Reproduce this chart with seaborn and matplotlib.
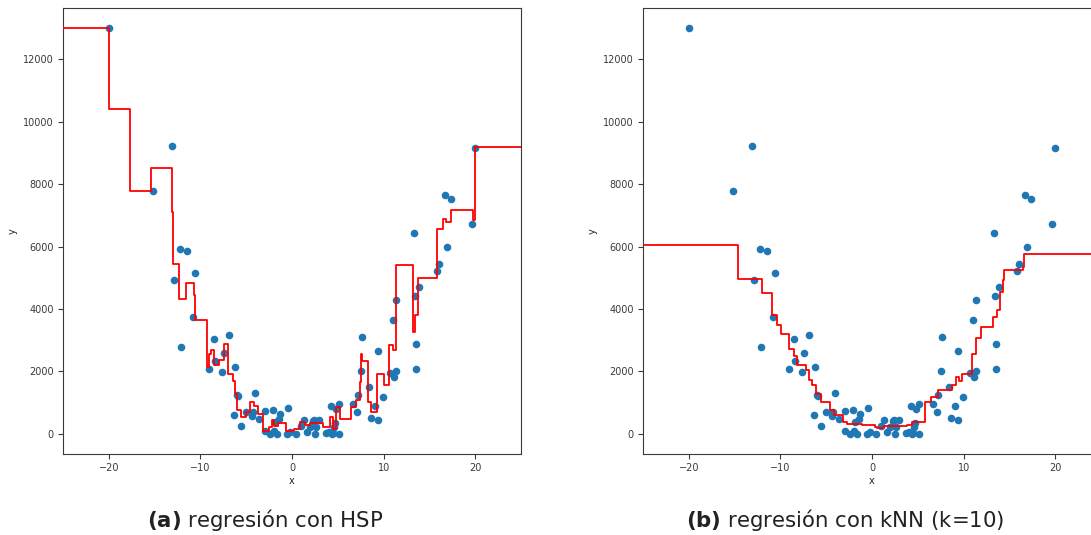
import numpy as np
import pandas as pd
import matplotlib
matplotlib.use("Agg")
import matplotlib.pyplot as plt
import seaborn as sns

# ---- scatter data ----
pts_x = [-20.0, -15.2, -13.07, -12.93, -12.25, -11.45, -12.15, -10.58, -10.8, -8.55,
         -6.86, -7.46, -8.44, -9.05, -7.66, -6.24, -6.0, -5.86, -4.08, -6.33,
         -5.53, -5.01, -4.41, -4.3, -3.55, -2.96, -2.11, -1.29, -0.49, -2.95,
         -2.37, -2.01, -1.63, -1.83, -1.47, -0.53, -0.2, 0.4, 0.95, 1.27,
         1.6, 1.97, 2.33, 2.45, 2.94, 2.55, 2.65, 3.7, 4.05, 4.35,
         4.5, 5.11, 4.65, 4.55, 4.28, 4.77, 5.13, 6.62, 7.09, 7.22,
         8.37, 7.55, 7.65, 9.35, 8.67, 9.37, 9.1, 9.93, 10.65, 11.38,
         11.13, 13.57, 13.57, 11.02, 11.39, 13.4, 13.9, 13.27, 15.81, 16.09,
         16.97, 16.7, 17.4, 19.7, 19.96]
pts_y = [13000, 7770, 9240, 4925, 5920, 5845, 2790, 5160, 3733, 3045,
         3150, 2582, 2325, 2090, 1995, 2155, 1256, 1202, 1298, 605,
         252, 711, 560, 689, 476, 743, 770, 637, 812, 85,
         0, 96, 0, 367, 471, 0, 40, 0, 240, 454,
         48, 205, 410, 454, 454, 0, 205, 27, 60, 0,
         22, 0, 340, 212, 903, 780, 958, 945, 711, 1229,
         1503, 2026, 3108, 2646, 508, 445, 881, 1170, 1962, 2000,
         1823, 2068, 2883, 3652, 4300, 4400, 4695, 6440, 5225, 5450,
         5985, 7670, 7520, 6730, 9160]

# ---- HSP regression line (step breakpoints) ----
hsp_x = [-25, -20.0, -17.7, -15.35, -13.15, -12.95, -12.3, -11.6, -10.75, -10.6,
         -9.25, -9.05, -8.8, -8.55, -7.95, -7.45, -6.95, -6.4, -6.2, -6.05,
         -5.55, -5.05, -4.55, -4.1, -3.75, -3.2, -2.5, -2.2, -1.95, -1.55,
         -0.7, 0.25, 0.49, 0.85, 1.39, 1.94, 3.39, 4.11, 4.47, 4.84,
         5.2, 6.47, 7.02, 7.38, 7.56, 7.67, 8.28, 8.65, 9.26, 9.99,
         10.64, 11.0, 11.37, 13.25, 13.47, 13.72, 15.83, 16.52, 16.81, 17.36,
         19.71, 19.97, 25]
hsp_y = [13000, 10420, 7776, 8514, 7100, 5450, 4330, 4830, 4440, 3655,
         2135, 2560, 2700, 2190, 2375, 2885, 1925, 1700, 1280, 745,
         530, 685, 1010, 900, 630, 100, 200, 450, 250, 350,
         100, 150, 160, 370, 265, 330, 210, 530, 160, 850,
         460, 850, 1070, 1650, 2570, 2320, 1010, 690, 1925, 1570,
         2830, 2700, 5400, 3260, 3800, 4990, 6580, 6870, 6790, 7170,
         6845, 9180, 9180]

# ---- kNN (k=10) regression line (step breakpoints) ----
knn_x = [-25, -14.59, -11.97, -10.88, -10.34, -9.97, -9.07, -8.52, -8.16, -7.25,
         -6.89, -6.52, -6.16, -5.61, -4.6, -4.16, -3.18, -2.71, -1.07, 0.38,
         0.56, 1.29, 3.83, 4.38, 5.83, 6.45, 7.17, 8.74, 9.17, 9.46,
         9.83, 10.88, 11.35, 11.9, 13.21, 13.6, 13.93, 14.26, 14.4, 16.48,
         16.62, 25]
knn_y = [6065, 4974, 4512, 3796, 3498, 3209, 2728, 2500, 2192, 2031,
         1710, 1550, 1284, 1014, 748, 587, 372, 321, 266, 212,
         180, 234, 266, 372, 1014, 1175, 1412, 1550, 1816, 1700,
         1925, 2567, 3081, 3421, 3742, 3957, 4544, 4919, 5240, 5347,
         5754, 5754]

captions = [("(a)", " regresión con HSP"), ("(b)", " regresión con kNN (k=10)")]

sns.set_style("white")
plt.rcParams["font.family"] = ["DejaVu Sans"]
plt.rcParams["axes.edgecolor"] = "#3a3a3a"
plt.rcParams["axes.linewidth"] = 0.8
plt.rcParams["xtick.color"] = "#3a3a3a"
plt.rcParams["ytick.color"] = "#3a3a3a"
plt.rcParams["text.color"] = "#222222"

pts = pd.DataFrame({"x": pts_x, "y": pts_y})
hsp = pd.DataFrame({"x": hsp_x, "y": hsp_y})
knn = pd.DataFrame({"x": knn_x, "y": knn_y})

fig = plt.figure(figsize=(10.91, 5.35), dpi=100)
ax1 = fig.add_axes([63 / 1091, 81 / 535, 458 / 1091, 446 / 535])
ax2 = fig.add_axes([643 / 1091, 81 / 535, 458 / 1091, 446 / 535])

for ax, line in [(ax1, hsp), (ax2, knn)]:
    sns.scatterplot(data=pts, x="x", y="y", ax=ax, s=30, color="#1f77b4",
                    linewidth=0, zorder=2)
    sns.lineplot(data=line, x="x", y="y", ax=ax, color="red", linewidth=1.3,
                 drawstyle="steps-post", estimator=None, sort=False, zorder=3)
    ax.set_xlim(-25, 25)
    ax.set_ylim(-650, 13650)
    ax.set_xticks([-20, -10, 0, 10, 20])
    ax.set_yticks([0, 2000, 4000, 6000, 8000, 10000, 12000])
    ax.tick_params(axis="both", labelsize=7, length=3.5, width=0.8,
                   direction="out", bottom=True, left=True, pad=3)
    ax.set_xlabel("x", fontsize=7, labelpad=2)
    ax.set_ylabel("y", fontsize=7, labelpad=4)
    for s in ax.spines.values():
        s.set_visible(True)

for cx, (lab, rest) in zip([265 / 1091, 845 / 1091], captions):
    fig.text(cx, 0.028, r"$\bf{" + lab + "}$" + rest,
             ha="center", va="center", fontsize=15.3)

fig.savefig("out.png", dpi=100)
